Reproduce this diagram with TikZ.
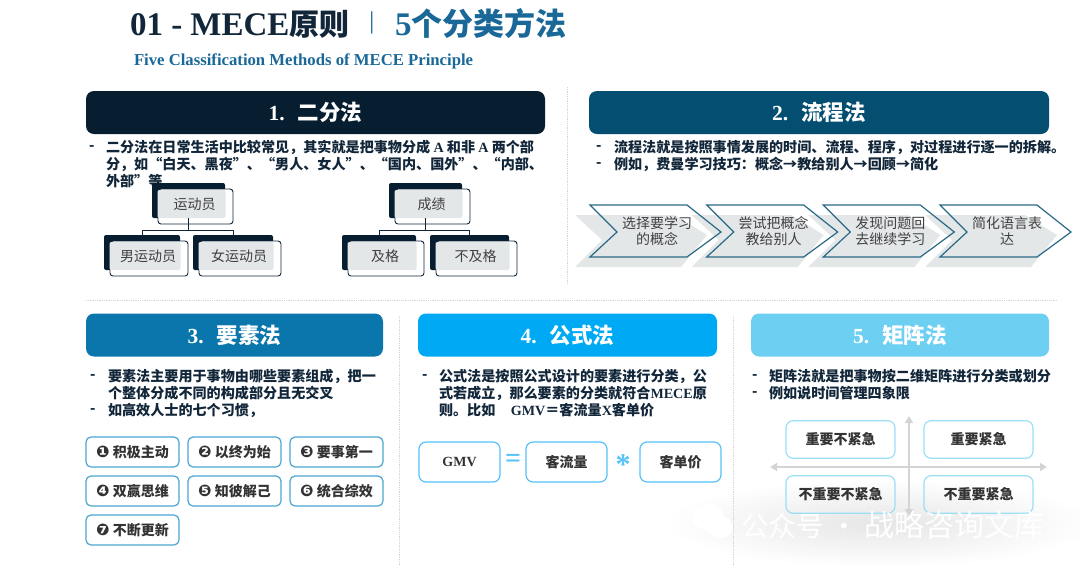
\documentclass[tikz,border=0pt]{standalone}
\usepackage{fontspec}
\setmainfont{Noto Sans CJK SC}
\newfontfamily\latinserif{Liberation Serif}
\newfontfamily\symbolfont{DejaVu Sans}
\usetikzlibrary{positioning}
\usetikzlibrary{arrows.meta}
\definecolor{navy}{HTML}{061E2F}
\definecolor{petrol}{HTML}{034E71}
\definecolor{ocean}{HTML}{0A76AB}
\definecolor{azure}{HTML}{00A9F4}
\definecolor{sky}{HTML}{6DCFF2}
\definecolor{titleblue}{HTML}{1A6898}
\definecolor{bodyink}{HTML}{12263A}
\definecolor{softgray}{HTML}{E4E7E8}
\definecolor{pillblue}{HTML}{4AA6D2}
\definecolor{boxblue}{HTML}{55C2FB}
\definecolor{matblue}{HTML}{9ADFF5}
\definecolor{rulegray}{HTML}{D4D4D4}
\newcommand{\bodyfont}{\fontsize{14.1}{17}\selectfont\bfseries}
\newcommand{\dashline}{\vphantom{二}-}
\newcommand{\habitmark}[1]{{\fontsize{16}{16}\selectfont\symbolfont #1}\hspace{3pt}}
\tikzset{
    every node/.style={outer sep=0pt, inner sep=0pt},
    headbox/.style={rectangle, rounded corners=8pt, minimum height=43pt, text=white, font=\fontsize{21.5}{24}\selectfont\bfseries},
    bodytext/.style={anchor=north west, align=left, text=bodyink, font=\bodyfont},
    treeback/.style={rectangle, rounded corners=2pt, fill=navy},
    treefront/.style={rectangle, rounded corners=3pt, draw=bodyink, line width=0.9pt, fill=white},
    treelabel/.style={rectangle, rounded corners=2pt, fill=softgray, text=black!75, font=\fontsize{14}{16}\selectfont},
    treeline/.style={draw=bodyink, line width=0.8pt},
    chevline/.style={draw=petrol!85, line width=1.2pt, line join=miter},
    chevtext/.style={align=center, text=black!75, font=\fontsize{14}{16.5}\selectfont},
    pillbox/.style={rectangle, rounded corners=5pt, draw=pillblue, line width=1.2pt, fill=white, minimum width=93pt, minimum height=30pt, text=black!80, font=\fontsize{14}{16}\selectfont\bfseries},
    gmvbox/.style={rectangle, rounded corners=7pt, draw=boxblue, line width=1.2pt, fill=white, minimum width=81pt, minimum height=40pt, text=black!80, font=\fontsize{14}{16}\selectfont\bfseries},
    matbox/.style={rectangle, rounded corners=7pt, draw=matblue, line width=1.2pt, minimum width=109pt, minimum height=37.5pt, text=black!80, font=\fontsize{14}{16}\selectfont\bfseries},
    sepline/.style={draw=rulegray, line width=0.8pt, densely dotted},
    axisline/.style={draw=rulegray, line width=2.6pt, {Triangle[width=8pt,length=7pt]}-{Triangle[width=8pt,length=7pt]}},
}
\begin{document}
\begin{tikzpicture}[x=1pt, y=-1pt]
    \path [use as bounding box] (0,0) rectangle (1080,566);

    \shade [inner color=black!10, outer color=white] (880,523) ellipse [x radius=215, y radius=44];

    \node (title) [anchor=base west, text=bodyink, font=\fontsize{30}{32}\selectfont\bfseries] at (130,35) {{\fontsize{33}{32}\selectfont\latinserif 01 - MECE}原则};
    \node (titlebar) [anchor=center, text=titleblue, font=\fontsize{20}{22}\selectfont] at (372,23) {|};
    \node (titleright) [anchor=base west, text=titleblue, font=\fontsize{31}{32}\selectfont\bfseries] at (395,35) {{\fontsize{33}{32}\selectfont\latinserif 5}个分类方法};
    \node (subtitle) [anchor=base west, text=titleblue, font=\fontsize{16.7}{18}\selectfont\bfseries\latinserif] at (134,65) {Five Classification Methods of MECE Principle};

    \coordinate (vtop) at (567,87);
    \coordinate (vbot) at (567,285);
    \coordinate (hleft) at (86,300);
    \coordinate (hright) at (1057,300);
    \coordinate (vtopa) at (399,316);
    \coordinate (vbota) at (399,566);
    \coordinate (vtopb) at (733,316);
    \coordinate (vbotb) at (733,566);
    \draw [sepline] (vtop) -- (vbot);
    \draw [sepline] (hleft) -- (hright);
    \draw [sepline] (vtopa) -- (vbota);
    \draw [sepline] (vtopb) -- (vbotb);

    \node (head1) [headbox, fill=navy, minimum width=459pt] at (315.5,112.5) {{\latinserif 1.}\hspace{0.6em}二分法};
    \node (head2) [headbox, fill=petrol, minimum width=460pt, right = 44pt of head1] {{\latinserif 2.}\hspace{0.6em}流程法};
    \node (head3) [headbox, fill=ocean, minimum width=297pt] at (234.5,335) {{\latinserif 3.}\hspace{0.6em}要素法};
    \node (head4) [headbox, fill=azure, minimum width=299pt, right = 35pt of head3] {{\latinserif 4.}\hspace{0.6em}公式法};
    \node (head5) [headbox, fill=sky, minimum width=298pt, right = 34pt of head4] {{\latinserif 5.}\hspace{0.6em}矩阵法};

    \node (dash1) [bodytext] at (89,140) {\dashline};
    \node (text1) [bodytext] at (106,140) {二分法在日常生活中比较常见，其实就是把事物分成 {\latinserif A} 和非 {\latinserif A} 两个部\\分，如“白天、黑夜”、“男人、女人”、“国内、国外”、“内部、\\外部”等};
    \node (dash2) [bodytext] at (596,140) {\dashline\\\dashline};
    \node (text2) [bodytext] at (614,140) {流程法就是按照事情发展的时间、流程、程序，对过程进行逐一的拆解。\\例如，费曼学习技巧：概念→教给别人→回顾→简化};
    \node (dash3) [bodytext] at (90,369) {\dashline\\\phantom{-}\\\dashline};
    \node (text3) [bodytext] at (108,369) {要素法主要用于事物由哪些要素组成，把一\\个整体分成不同的构成部分且无交叉\\如高效人士的七个习惯，};
    \node (dash4) [bodytext] at (422,369) {\dashline};
    \node (text4) [bodytext] at (439,369) {公式法是按照公式设计的要素进行分类，公\\式若成立，那么要素的分类就符合{\latinserif MECE}原\\则。比如\hspace{1.1em}{\latinserif GMV}＝客流量{\latinserif X}客单价};
    \node (dash5) [bodytext] at (752,369) {\dashline\\\dashline};
    \node (text5) [bodytext] at (769,369) {矩阵法就是把事物按二维矩阵进行分类或划分\\例如说时间管理四象限};

    \foreach \nm/\x/\y/\w/\txt in {athlete/188.5/200.5/73/运动员, male/142/252.5/76/男运动员, female/233/252.5/80/女运动员, grade/425.5/200.5/73/成绩, pass/379/252.5/74/及格, fail/469.5/252.5/79/不及格} {
        \node (\nm) [treeback, minimum width=\w pt, minimum height=35pt] at (\x,\y) {};
        \node (\nm front) [treefront, minimum width={(\w+2)*1pt}, minimum height=35pt] at ([shift={(7,6)}] \nm.center) {};
        \node (\nm label) [treelabel, minimum width={(\w-5)*1pt}, minimum height=28pt] at ([shift={(3,3.5)}] \nm.center) {\hspace{6pt}\raisebox{-2pt}{\txt}};
    }
    \draw [treeline] (athlete.south) -- ++(0,12) -| (male.north);
    \draw [treeline] (athlete.south) -- ++(0,12) -| (female.north);
    \draw [treeline] (grade.south) -- ++(0,12) -| (pass.north);
    \draw [treeline] (grade.south) -- ++(0,12) -| (fail.north);

    \foreach \x in {590,706.7,823.3,940} {
        \fill [softgray] (\x-15,215) -- (\x+85,215) -- (\x+117,235) -- (\x+91,267) -- (\x-15,267) -- (\x+12,240) -- cycle;
    }
    \foreach \i/\x/\txt in {1/590/{选择要学习\\的概念}, 2/706.7/{尝试把概念\\教给别人}, 3/823.3/{发现问题回\\去继续学习}, 4/940/{简化语言表\\达}} {
        \draw [chevline] (\x,205) -- (\x+97,205) -- (\x+131,232) -- (\x+97,257) -- (\x,257) -- (\x+27,232) -- cycle;
        \node (flow\i) [chevtext] at (\x+67,231) {\txt};
    }

    \node (habit1) [pillbox] at (132.5,452) {\habitmark{❶}积极主动};
    \node (habit2) [pillbox, right = 9pt of habit1] {\habitmark{❷}以终为始};
    \node (habit3) [pillbox, right = 9pt of habit2] {\habitmark{❸}要事第一};
    \node (habit4) [pillbox, below = 9pt of habit1] {\habitmark{❹}双赢思维};
    \node (habit5) [pillbox, right = 9pt of habit4] {\habitmark{❺}知彼解己};
    \node (habit6) [pillbox, right = 9pt of habit5] {\habitmark{❻}统合综效};
    \node (habit7) [pillbox, below = 9pt of habit4] {\habitmark{❼}不断更新};

    \node (gmv) [gmvbox] at (459.5,462) {\latinserif GMV};
    \node (traffic) [gmvbox, right = 26pt of gmv] {客流量};
    \node (price) [gmvbox, right = 33pt of traffic] {客单价};
    \node (equals) [text=boxblue, font=\fontsize{28}{28}\selectfont\bfseries\latinserif] at (513,461) {=};
    \node (times) [text=boxblue, font=\fontsize{30}{30}\selectfont\bfseries\latinserif] at (623,465) {*};

    \coordinate (axistop) at (909,416);
    \coordinate (axisbot) at (909,516);
    \coordinate (axisleft) at (770,467);
    \coordinate (axisright) at (1047,467);
    \draw [axisline] (axisbot) -- (axistop);
    \draw [axisline] (axisleft) -- (axisright);
    \node (quad1) [matbox] at (840.5,439.5) {重要不紧急};
    \node (quad2) [matbox, right = 29pt of quad1] {重要紧急};
    \node (quad3) [matbox, below = 17.5pt of quad1] {不重要不紧急};
    \node (quad4) [matbox, right = 29pt of quad3] {不重要紧急};

    \fill [white] (708,517) ellipse [x radius=16, y radius=13];
    \fill [white] (720,527) ellipse [x radius=13, y radius=11];
    \node (mark) [anchor=west, text=white, font=\fontsize{27.5}{30}\selectfont] at (741,525) {公众号\hspace{0.25em}·\hspace{0.25em}{\fontsize{30}{30}\selectfont 战略咨询文库}};
\end{tikzpicture}
\end{document}
